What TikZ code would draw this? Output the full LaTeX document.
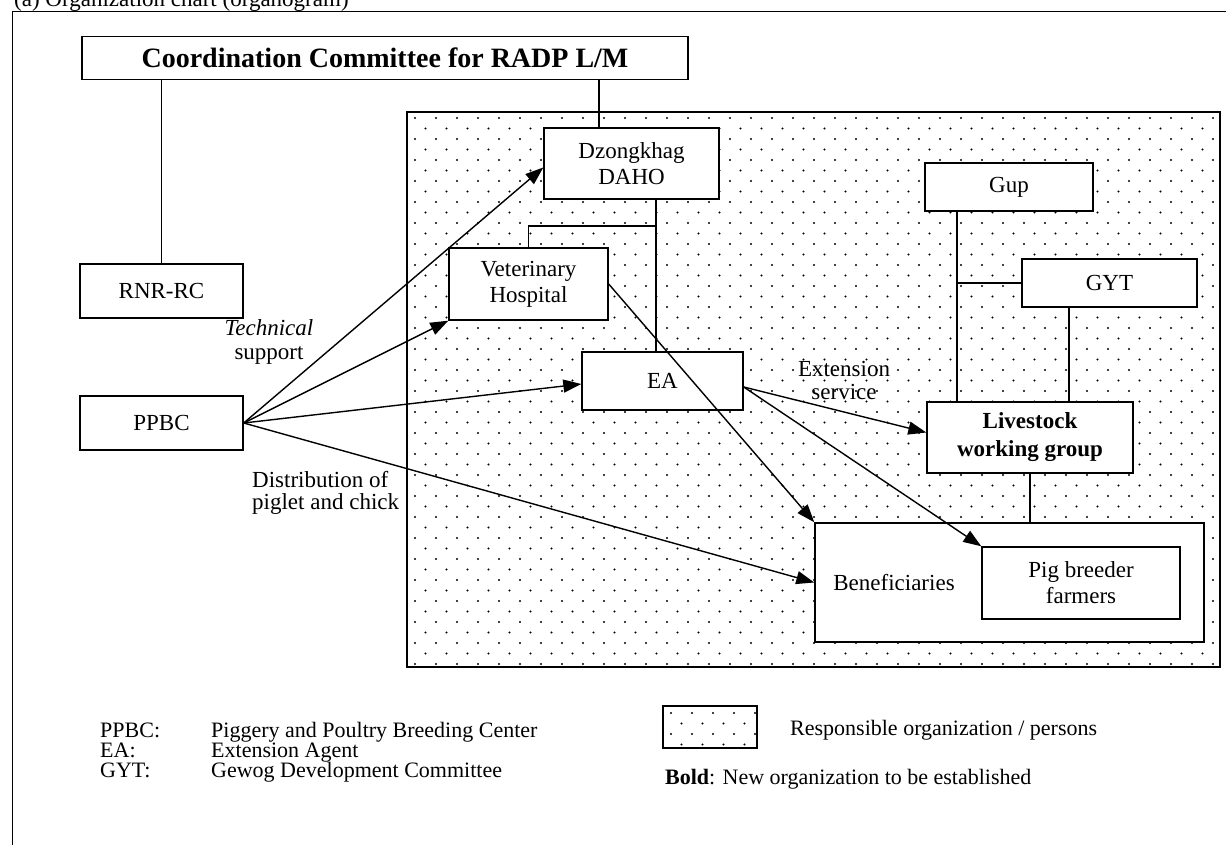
\documentclass[tikz,border=0pt]{standalone}
\usepackage{fontspec}
\setmainfont{Liberation Serif}
\usetikzlibrary{arrows.meta,calc}
\newcommand\myfs{\fontsize{23}{26}\selectfont}
\newcommand\mylegfs{\fontsize{22}{24}\selectfont}
\newcommand\mytitlefs{\fontsize{28}{31}\selectfont}
\begin{document}
\begin{tikzpicture}[x=1pt,y=-1pt,
  box/.style={draw,line width=1.4pt,fill=white,inner sep=0pt,align=center,font=\myfs},
  conn/.style={line width=1.4pt},
  arr/.style={line width=1.4pt,-{Triangle[length=18pt,width=13pt]}},
  lbl/.style={inner sep=0pt,align=center,font=\myfs},
  leg/.style={inner sep=0pt,anchor=base west,font=\mylegfs},
  dot/.style={fill=black},
]
\path[use as bounding box] (0,0) rectangle (1226,845);
\clip (0,0) rectangle (1226,845);

% caption and outer frame
\node[leg,font=\myfs] (cap) at (14,7) {(a) Organization chart (organogram)};
\draw[line width=1pt] (12,845) -- (12,12) -- (1226,12);

% dotted responsibility area
\begin{scope}
  \clip (407,112) rectangle (1220,667);
  \foreach \r in {0,...,52}{
    \pgfmathsetmacro{\yy}{118+\r*10.5}
    \pgfmathsetmacro{\xo}{mod(\r,2)*10.5}
    \foreach \c in {0,...,38}{
      \fill[dot] ({415+\xo+\c*21},\yy) circle[radius=1.1];
    }
  }
\end{scope}
\draw[line width=1.4pt] (407,112) rectangle (1220,667);

% nodes
\node[box,font=\mytitlefs\bfseries,minimum width=606,minimum height=43] (coord) at (385,58) {Coordination Committee for RADP L/M};
\node[box,minimum width=163,minimum height=54] (rnr) at (161.5,291) {RNR-RC};
\node[box,minimum width=163,minimum height=54] (ppbc) at (161.5,423) {PPBC};
\node[box,minimum width=175,minimum height=71] (dzong) at (631.5,163.5) {Dzongkhag\\DAHO};
\node[box,minimum width=159,minimum height=72] (vet) at (528.5,284) {Veterinary\\Hospital};
\node[box,minimum width=161,minimum height=58] (ea) at (662.5,381) {EA};
\node[box,minimum width=168,minimum height=48] (gup) at (1009,187) {Gup};
\node[box,minimum width=175,minimum height=48] (gyt) at (1109.5,283) {GYT};
\node[box,font=\myfs\bfseries,minimum width=206,minimum height=71] (lwg) at (1030,437.5) {Livestock\\[2pt]working group};
\node[box,minimum width=389,minimum height=119] (ben) at (1009.5,582.5) {};
\node[lbl] (bent) at (894,583) {Beneficiaries};
\node[box,minimum width=198,minimum height=72] (pig) at (1081,583) {Pig breeder\\farmers};

% junction points
\coordinate (j1) at (656,226);
\coordinate (j2) at (957,283);
\coordinate (j3) at (1069,350);

% plain connectors
\draw[conn] (rnr.north) -- (rnr.north |- coord.south);
\draw[conn] ([xshift=-32.5]dzong.north) -- ([xshift=-32.5]dzong.north |- coord.south);
\draw[conn] (dzong.south -| j1) -- (ea.north -| j1);
\draw[conn] (vet.north) |- (j1);
\draw[conn] (gup.south -| j2) -- (lwg.north -| j2);
\draw[conn] (j2) -- (gyt.west);
\draw[conn] (gyt.south -| j3) -- (lwg.north -| j3);
\draw[conn] (lwg.south) -- (lwg.south |- ben.north);

% arrows
\draw[arr] (ppbc.east) -- ([yshift=-4]dzong.west);
\draw[arr] (ppbc.east) -- (vet.south west);
\draw[arr] (ppbc.east) -- ([yshift=-3]ea.west);
\draw[arr] (ppbc.east) -- (ben.west);
\draw[arr] (vet.east) -- (ben.north west);
\draw[arr] ([yshift=-6]ea.east) -- ([yshift=5]lwg.west);
\draw[arr] ([yshift=-6]ea.east) -- (pig.north west);

% arrow labels
\node[lbl] (tech) at (269,342) {\textit{Technical}\\[-2pt]support};
\node[lbl] (ext) at (844,380) {Extension\\[-3pt]service};
\node[lbl,align=left,anchor=west] (dist) at (252,493) {Distribution of\\[-4pt]piglet and chick};

% legend
\node[leg] (l1) at (100,737) {PPBC:};
\node[leg] (l2) at (100,757) {EA:};
\node[leg] (l3) at (100,777) {GYT:};
\node[leg] (d1) at (211,737) {Piggery and Poultry Breeding Center};
\node[leg] (d2) at (211,757) {Extension Agent};
\node[leg] (d3) at (211,777) {Gewog Development Committee};

\begin{scope}
  \clip (663,706) rectangle (757,748);
  \foreach \r in {0,...,3}{
    \pgfmathsetmacro{\yy}{713+\r*10.5}
    \pgfmathsetmacro{\xo}{mod(\r,2)*10.5}
    \foreach \c in {0,...,4}{
      \fill[dot] ({671+\xo+\c*21},\yy) circle[radius=1.1];
    }
  }
\end{scope}
\draw[line width=1.4pt] (663,706) rectangle (757,748);
\node[leg] (resp) at (790,735) {Responsible organization / persons};
\node[leg] (bold) at (665,784) {\textbf{Bold}: New organization to be established};
\end{tikzpicture}
\end{document}
